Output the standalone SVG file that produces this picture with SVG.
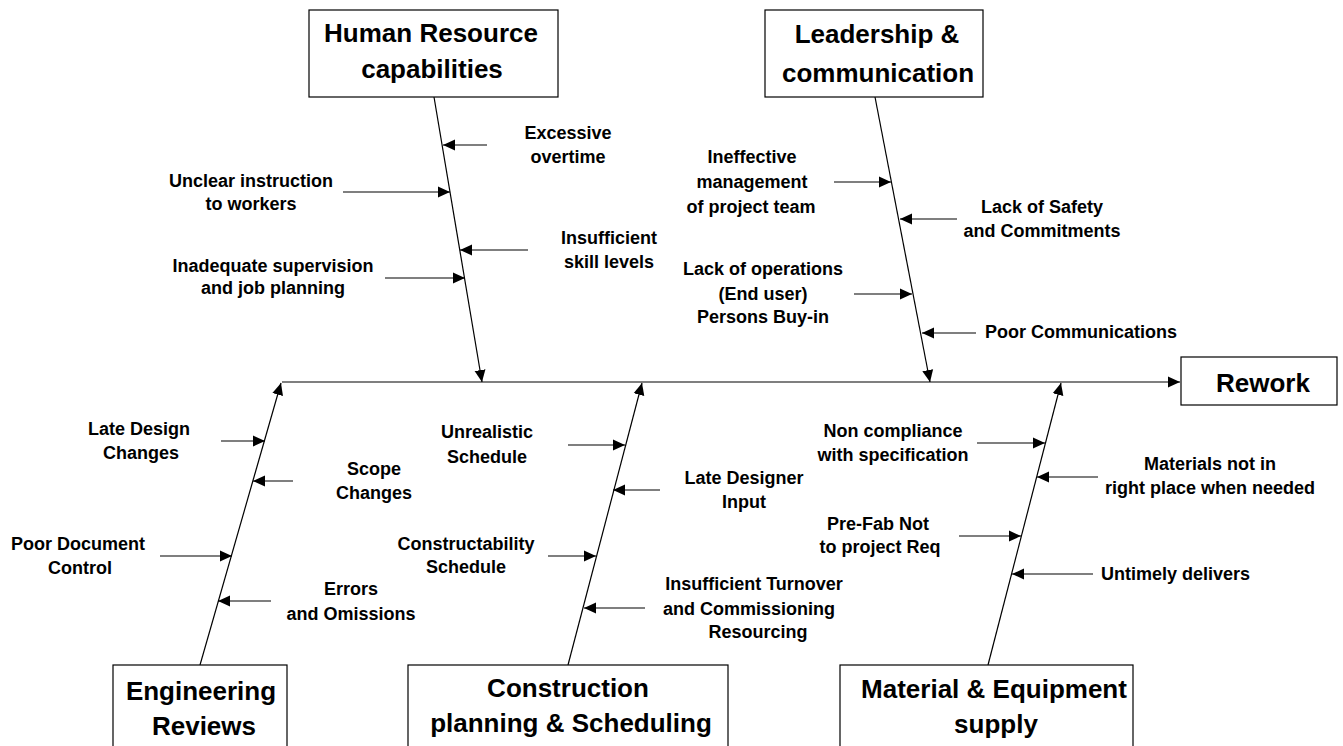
<svg xmlns="http://www.w3.org/2000/svg" width="1343" height="746" viewBox="0 0 1343 746">
<style>
.box{fill:#fff;stroke:#000;stroke-width:1.2}
.title{font-family:"Liberation Sans",Arial,sans-serif;font-weight:bold;font-size:26px;fill:#000;text-anchor:middle}
.lbl{font-family:"Liberation Sans",Arial,sans-serif;font-weight:bold;font-size:18px;fill:#000;text-anchor:middle}
.lbs{font-family:"Liberation Sans",Arial,sans-serif;font-weight:bold;font-size:18px;fill:#000;text-anchor:start}
.sp{stroke:#000;stroke-width:1.2;fill:none;marker-end:url(#ah)}
.br{stroke:#000;stroke-width:1.2;fill:none;marker-end:url(#ah)}
</style>
<defs>
<marker id="ah" markerUnits="userSpaceOnUse" viewBox="0 0 12 12" markerWidth="12" markerHeight="12" refX="12" refY="6" orient="auto">
<path d="M0,0.5 L12,6 L0,11.5 z" fill="#000"/>
</marker>
</defs>
<rect width="1343" height="746" fill="#fff"/>
<g id="connectors">
<line class="sp" x1="282" y1="382" x2="1180" y2="382"/>
<line class="sp" x1="434" y1="97" x2="482" y2="382"/>
<line class="sp" x1="875" y1="97" x2="930" y2="382"/>
<line class="sp" x1="200" y1="665" x2="281" y2="383"/>
<line class="sp" x1="568" y1="665" x2="642" y2="383"/>
<line class="sp" x1="988" y1="665" x2="1061" y2="383"/>
<line class="br" x1="487" y1="145" x2="443" y2="145"/>
<line class="br" x1="343" y1="192" x2="450" y2="192"/>
<line class="br" x1="528" y1="250" x2="460" y2="250"/>
<line class="br" x1="385" y1="278" x2="465" y2="278"/>
<line class="br" x1="834" y1="182" x2="891" y2="182"/>
<line class="br" x1="957" y1="219" x2="900" y2="219"/>
<line class="br" x1="854" y1="294" x2="912" y2="294"/>
<line class="br" x1="976" y1="333" x2="922" y2="333"/>
<line class="br" x1="221" y1="441" x2="265" y2="441"/>
<line class="br" x1="293" y1="481" x2="253" y2="481"/>
<line class="br" x1="160" y1="556" x2="232" y2="556"/>
<line class="br" x1="271" y1="601" x2="218" y2="601"/>
<line class="br" x1="568" y1="445" x2="625" y2="445"/>
<line class="br" x1="660" y1="490" x2="613" y2="490"/>
<line class="br" x1="548" y1="556" x2="596" y2="556"/>
<line class="br" x1="645" y1="608" x2="584" y2="608"/>
<line class="br" x1="977" y1="443" x2="1045" y2="443"/>
<line class="br" x1="1098" y1="477" x2="1037" y2="477"/>
<line class="br" x1="959" y1="536" x2="1021" y2="536"/>
<line class="br" x1="1093" y1="574" x2="1012" y2="574"/>
</g>
<g id="hr">
<rect class="box" x="309" y="10" width="249" height="87"/>
<text class="title" x="431" y="42">Human Resource</text>
<text class="title" x="432" y="78">capabilities</text>
</g>
<g id="leadership">
<rect class="box" x="765" y="10" width="218" height="87"/>
<text class="title" x="877" y="43">Leadership &amp;</text>
<text class="title" x="878" y="82">communication</text>
</g>
<g id="engineering">
<rect class="box" x="113" y="665" width="174" height="100"/>
<text class="title" x="201" y="700">Engineering</text>
<text class="title" x="204" y="735">Reviews</text>
</g>
<g id="construction">
<rect class="box" x="408" y="665" width="320" height="100"/>
<text class="title" x="568" y="697">Construction</text>
<text class="title" x="571" y="732">planning &amp; Scheduling</text>
</g>
<g id="material">
<rect class="box" x="840" y="665" width="293" height="100"/>
<text class="title" x="994" y="698">Material &amp; Equipment</text>
<text class="title" x="996" y="733">supply</text>
</g>
<g id="rework">
<rect class="box" x="1181" y="357" width="156" height="48"/>
<text class="title" x="1263" y="392">Rework</text>
</g>
<g id="c-excessive"><text class="lbl" x="568" y="139">Excessive</text><text class="lbl" x="568" y="163">overtime</text></g>
<g id="c-unclear"><text class="lbl" x="251" y="187">Unclear instruction</text><text class="lbl" x="251" y="210">to workers</text></g>
<g id="c-skill"><text class="lbl" x="609" y="244">Insufficient</text><text class="lbl" x="609" y="268">skill levels</text></g>
<g id="c-supervision"><text class="lbl" x="273" y="272">Inadequate supervision</text><text class="lbl" x="273" y="294">and job planning</text></g>
<g id="c-ineffective"><text class="lbl" x="752" y="163">Ineffective</text><text class="lbl" x="752" y="188">management</text><text class="lbl" x="751" y="213">of project team</text></g>
<g id="c-safety"><text class="lbl" x="1042" y="213">Lack of Safety</text><text class="lbl" x="1042" y="237">and Commitments</text></g>
<g id="c-operations"><text class="lbl" x="763" y="275">Lack of operations</text><text class="lbl" x="763" y="300">(End user)</text><text class="lbl" x="763" y="323">Persons Buy-in</text></g>
<g id="c-communications"><text class="lbs" x="985" y="338">Poor Communications</text></g>
<g id="c-latedesign"><text class="lbl" x="139" y="435">Late Design</text><text class="lbl" x="141" y="459">Changes</text></g>
<g id="c-scope"><text class="lbl" x="374" y="475">Scope</text><text class="lbl" x="374" y="499">Changes</text></g>
<g id="c-document"><text class="lbl" x="78" y="550">Poor Document</text><text class="lbl" x="80" y="574">Control</text></g>
<g id="c-errors"><text class="lbl" x="351" y="595">Errors</text><text class="lbl" x="351" y="620">and Omissions</text></g>
<g id="c-unrealistic"><text class="lbl" x="487" y="438">Unrealistic</text><text class="lbl" x="487" y="463">Schedule</text></g>
<g id="c-designer"><text class="lbl" x="744" y="484">Late Designer</text><text class="lbl" x="744" y="508">Input</text></g>
<g id="c-constructability"><text class="lbl" x="466" y="550">Constructability</text><text class="lbl" x="466" y="573">Schedule</text></g>
<g id="c-turnover"><text class="lbl" x="754" y="590">Insufficient Turnover</text><text class="lbl" x="749" y="615">and Commissioning</text><text class="lbl" x="758" y="638">Resourcing</text></g>
<g id="c-compliance"><text class="lbl" x="893" y="437">Non compliance</text><text class="lbl" x="893" y="461">with specification</text></g>
<g id="c-materials"><text class="lbl" x="1210" y="470">Materials not in</text><text class="lbl" x="1210" y="494">right place when needed</text></g>
<g id="c-prefab"><text class="lbl" x="878" y="530">Pre-Fab Not</text><text class="lbl" x="880" y="553">to project Req</text></g>
<g id="c-untimely"><text class="lbs" x="1101" y="580">Untimely delivers</text></g>
</svg>
